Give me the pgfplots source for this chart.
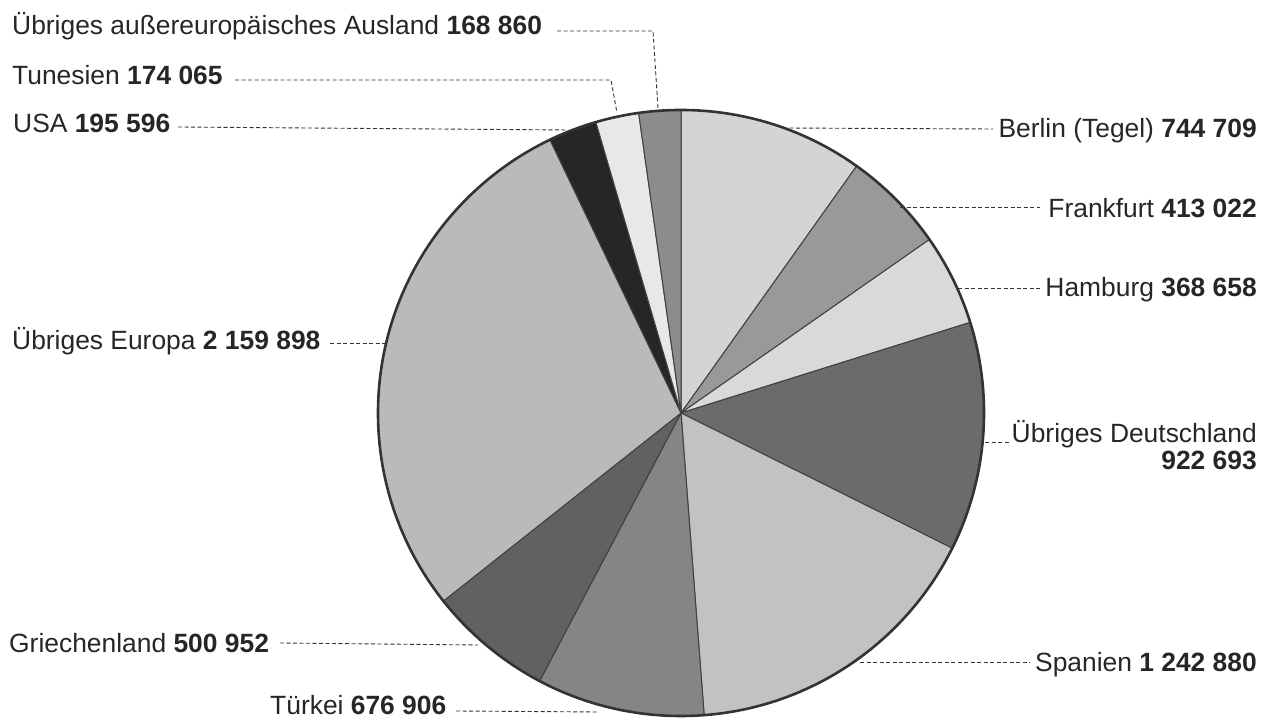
\documentclass[border=0pt]{standalone}
\usepackage{fontspec}
\setmainfont{Liberation Sans}
\usepackage{pgfplots}
\pgfplotsset{compat=1.18}
\usepackage{pgfplotstable}

% slices clockwise from 12 o'clock; g = grey darkness in percent
\pgfplotstableread{
value   g
744709  17
413022  40
368658  15
922693  58
1242880 24
676906  48
500952  62
2159898 27
195596  85
174065  9
168860  45
}\piedata

\newcommand\lbl{\fontsize{26.4bp}{30bp}\selectfont}
\def\cx{681}\def\cy{307}\def\R{303}
\tikzset{lead/.style={black!80, line width=0.9bp, dash pattern=on 4bp off 2.5bp}}

\begin{document}
\begin{tikzpicture}
\begin{axis}[
  x=1bp, y=1bp, xmin=0, xmax=1266, ymin=0, ymax=720,
  hide axis, clip=false, scale only axis,
]
\path (axis cs:0,0) rectangle (axis cs:1266,720);
\def\total{0}
\pgfplotsforeachungrouped \i in {0,...,10}{%
  \pgfplotstablegetelem{\i}{value}\of\piedata
  \edef\total{\fpeval{\total+\pgfplotsretval}}%
}
\def\cum{0}
\pgfplotsforeachungrouped \i in {0,...,10}{%
  \pgfplotstablegetelem{\i}{value}\of\piedata
  \let\v\pgfplotsretval
  \pgfplotstablegetelem{\i}{g}\of\piedata
  \let\g\pgfplotsretval
  \edef\sa{\fpeval{90-360*\cum/\total}}%
  \edef\cum{\fpeval{\cum+\v}}%
  \edef\ea{\fpeval{90-360*\cum/\total}}%
  \edef\temp{\noexpand\fill[fill=black!\g, draw=black!75, line width=1bp]
     (axis cs:\cx,\cy) -- ++(\sa:\R bp) arc[start angle=\sa, end angle=\ea, radius=\R bp] -- cycle;}%
  \temp
}
\draw[black!80, line width=2.6bp] (axis cs:\cx,\cy) circle[radius=\R bp];

% leader lines
\draw[lead] (axis cs:557,689) -- (axis cs:653,689) -- (axis cs:658,612);
\draw[lead] (axis cs:235,640) -- (axis cs:611,640) -- (axis cs:617,607);
\draw[lead] (axis cs:178,593) -- (axis cs:568,590);
\draw[lead] (axis cs:330,377) -- (axis cs:385,377);
\draw[lead] (axis cs:280,77) -- (axis cs:478,75);
\draw[lead] (axis cs:456,9) -- (axis cs:598,8);
\draw[lead] (axis cs:783,592) -- (axis cs:993,591);
\draw[lead] (axis cs:900,513) -- (axis cs:1040,513);
\draw[lead] (axis cs:958,432) -- (axis cs:1040,432);
\draw[lead] (axis cs:985,278) -- (axis cs:1010,278);
\draw[lead] (axis cs:860,58) -- (axis cs:1030,58);

% labels
\begin{scope}[every node/.style={inner sep=0pt, font=\lbl, text=black!85}]
\node[anchor=base west] at (axis cs:12,685) {Übriges außereuropäisches Ausland \textbf{168 860}};
\node[anchor=base west] at (axis cs:12,635) {Tunesien \textbf{174 065}};
\node[anchor=base west] at (axis cs:13,587) {USA \textbf{195 596}};
\node[anchor=base west] at (axis cs:12,370) {Übriges Europa \textbf{2 159 898}};
\node[anchor=base west] at (axis cs:9,67) {Griechenland \textbf{500 952}};
\node[anchor=base west] at (axis cs:270,5) {Türkei \textbf{676 906}};
\node[anchor=base east] at (axis cs:1257,582) {Berlin (Tegel) \textbf{744 709}};
\node[anchor=base east] at (axis cs:1257,502) {Frankfurt \textbf{413 022}};
\node[anchor=base east] at (axis cs:1257,423) {Hamburg \textbf{368 658}};
\node[anchor=base east] at (axis cs:1257,277) {Übriges Deutschland};
\node[anchor=base east] at (axis cs:1257,250) {\textbf{922 693}};
\node[anchor=base east] at (axis cs:1257,48) {Spanien \textbf{1 242 880}};
\end{scope}
\end{axis}
\end{tikzpicture}
\end{document}
